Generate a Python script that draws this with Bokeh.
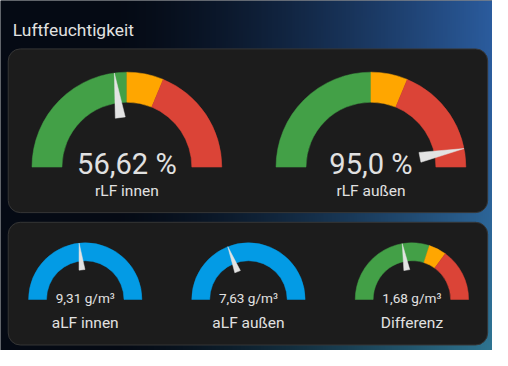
import numpy as np
from bokeh.plotting import figure
from bokeh.models import Range1d
from bokeh.core.properties import value
from bokeh.embed import file_html
from bokeh.resources import INLINE

# ---------------- data ----------------
title = "Luftfeuchtigkeit"

top_names = ["rLF innen", "rLF außen"]
top_values = [56.62, 95.0]
top_texts = ["56,62 %", "95,0 %"]
top_mins = [20, 20]
top_maxs = [100, 100]
top_bounds = [[60, 70], [60, 70]]          # green | yellow | red

bottom_names = ["aLF innen", "aLF außen", "Differenz"]
bottom_values = [9.31, 7.63, 1.68]
bottom_texts = ["9,31 g/m³", "7,63 g/m³", "1,68 g/m³"]
bottom_mins = [0, 0, -5]
bottom_maxs = [20, 20, 10]
bottom_bounds = [None, None, [4, 5.5]]

# ---------------- styles / layout ----------------
REF_W, REF_H = 508, 366
FIG_W, FIG_H = 492, 350
S = FIG_W / REF_W                    # uniform scale of the whole composition
VIS_H = FIG_H / S                    # visible reference height

GREEN, YELLOW, RED, BLUE = "#43a047", "#ffa600", "#db4437", "#039be5"
TXT = "#e1e1e1"
NEEDLE = "#e3e3e3"
CARD = "#1c1c1c"
FONT = value("Roboto")


def fs(px):
    return f"{px * S:.1f}px"


top_cx = [130.5, 382.5]
top_cy = 172.0
top_R = 98.0
top_value_base = 169.3
top_label_base = 196.7

bot_cx = [87.5, 256.0, 424.8]
bot_cy = 308.7
bot_R = 58.5
bot_value_base = 306.7
bot_label_base = 333.3


def Y(y):
    return REF_H - y


p = figure(width=FIG_W, height=FIG_H, x_range=Range1d(0, REF_W), y_range=Range1d(REF_H - VIS_H, REF_H),
           output_backend="svg", toolbar_location=None, min_border=0,
           x_axis_location=None, y_axis_location=None)
p.grid.visible = False
p.outline_line_color = None
p.background_fill_color = "#050a14"
p.border_fill_color = "#050a14"

# background gradient
W_img, H_img = 254, 183
gx = (np.arange(W_img) + 0.5) * REF_W / W_img
yref = REF_H - (np.arange(H_img) + 0.5) * REF_H / H_img
t = np.clip((gx - 110) / 398, 0, 1) ** 1.45
s = np.clip(yref / REF_H, 0, 1) ** 2
dark = np.array([5, 10, 20], float)
blue_c = np.array([43, 92, 158], float)
teal_c = np.array([47, 118, 145], float)
right = blue_c[None, :] * (1 - s[:, None]) + teal_c[None, :] * s[:, None]
col = dark[None, None, :] * (1 - t[None, :, None]) + right[:, None, :] * t[None, :, None]
img = np.empty((H_img, W_img), dtype=np.uint32)
view = img.view(dtype=np.uint8).reshape((H_img, W_img, 4))
view[..., 0:3] = np.clip(col, 0, 255).astype(np.uint8)
view[..., 3] = 255
p.image_rgba(image=[img], x=0, y=0, dw=REF_W, dh=REF_H)

# cards
p.quad(left=[8, 8], right=[503, 503], top=[Y(50), Y(229)], bottom=[Y(219), Y(355.7)],
       fill_color=CARD, line_color="#363636", line_width=1, border_radius=12)

# title
p.text(x=[12.7], y=[Y(30.7)], text=[title], text_font=FONT, text_font_size=fs(18),
       text_color=TXT, text_align="left", text_baseline="alphabetic")


def theta(v, vmin, vmax):
    f = (v - vmin) / (vmax - vmin)
    f = min(max(f, 0.0), 1.0)
    return np.pi * (1 - f)


wx, wy, wr0, wr1, wsa, wea, wc = [], [], [], [], [], [], []
nxs, nys = [], []


def add_gauge(cx, cy_ref, R, val, vmin, vmax, bounds):
    u = R / 47.5
    cy = Y(cy_ref)
    if bounds is None:
        segs = [(vmin, vmax, BLUE)]
    else:
        segs = [(vmin, bounds[0], GREEN), (bounds[0], bounds[1], YELLOW), (bounds[1], vmax, RED)]
    for a, b, c in segs:
        wx.append(cx); wy.append(cy)
        wr0.append(32.5 * u); wr1.append(47.5 * u)
        wsa.append(theta(b, vmin, vmax)); wea.append(theta(a, vmin, vmax))
        wc.append(c)
    th = theta(val, vmin, vmax)
    ct, st = np.cos(th), np.sin(th)
    tip = (cx + 47.5 * u * ct, cy + 47.5 * u * st)
    bx, by = cx + 25 * u * ct, cy + 25 * u * st
    w = 2.5 * u
    nxs.append([tip[0], bx - w * st, bx + w * st])
    nys.append([tip[1], by + w * ct, by - w * ct])


for i in range(len(top_names)):
    add_gauge(top_cx[i], top_cy, top_R, top_values[i], top_mins[i], top_maxs[i], top_bounds[i])
for i in range(len(bottom_names)):
    add_gauge(bot_cx[i], bot_cy, bot_R, bottom_values[i], bottom_mins[i], bottom_maxs[i], bottom_bounds[i])

p.annular_wedge(x=wx, y=wy, inner_radius=wr0, outer_radius=wr1, start_angle=wsa, end_angle=wea,
                fill_color=wc, line_color=wc, line_width=0.5)
p.patches(xs=nxs, ys=nys, fill_color=NEEDLE, line_color=NEEDLE, line_width=0.5)

# texts
p.text(x=top_cx, y=[Y(top_value_base)] * 2, text=top_texts, text_font=FONT,
       text_font_size=fs(30), text_color=TXT, text_align="center", text_baseline="alphabetic")
p.text(x=top_cx, y=[Y(top_label_base)] * 2, text=top_names, text_font=FONT,
       text_font_size=fs(16), text_color=TXT, text_align="center", text_baseline="alphabetic")
p.text(x=bot_cx, y=[Y(bot_value_base)] * 3, text=bottom_texts, text_font=FONT,
       text_font_size=fs(14), text_color=TXT, text_align="center", text_baseline="alphabetic")
p.text(x=bot_cx, y=[Y(bot_label_base)] * 3, text=bottom_names, text_font=FONT,
       text_font_size=fs(16), text_color=TXT, text_align="center", text_baseline="alphabetic")

open("out.html", "w").write(file_html(p, INLINE))
